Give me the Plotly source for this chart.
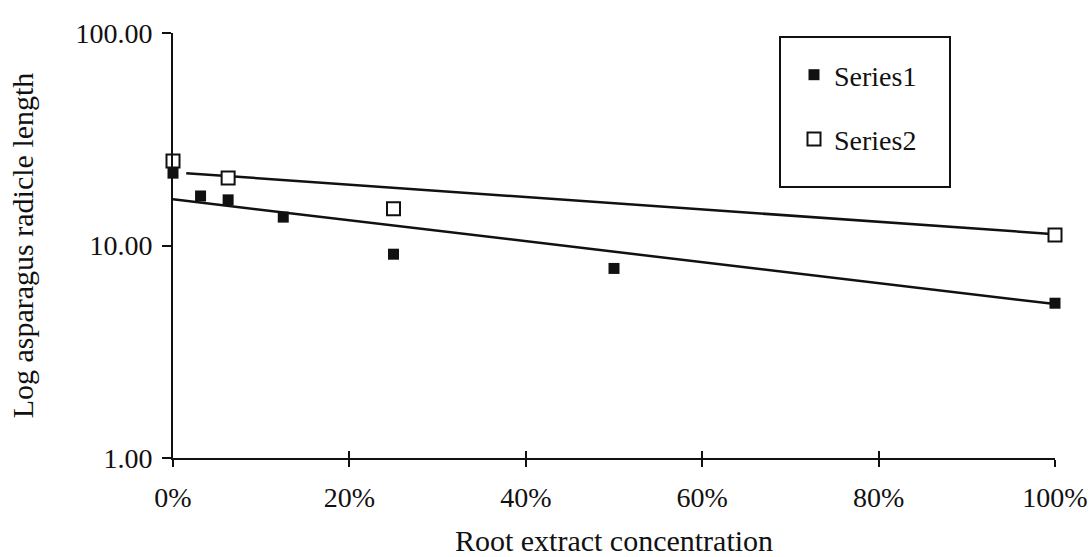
import plotly.graph_objects as go

# Data
conc1 = [0.0, 0.03125, 0.0625, 0.125, 0.25, 0.50, 1.00]
series1 = [21.9, 17.1, 16.4, 13.6, 9.1, 7.8, 5.35]
conc2 = [0.0, 0.0625, 0.25, 1.00]
series2 = [25.0, 20.8, 14.9, 11.2]

# Trend line end points
trend1_x = [0.0, 1.0]
trend1_y = [16.5, 5.3]
trend2_x = [0.015, 1.0]
trend2_y = [21.9, 11.3]

y_ticks = [1, 10, 100]
y_tick_text = ["1.00", "10.00", "100.00"]
x_ticks = [0, 0.2, 0.4, 0.6, 0.8, 1.0]

FONT = "Liberation Serif, Times New Roman, serif"
FS = 28
TFS = 30

fig = go.Figure()
fig.add_trace(go.Scatter(x=trend1_x, y=trend1_y, mode="lines",
                         line=dict(color="#111", width=2.5), showlegend=False,
                         hoverinfo="skip"))
fig.add_trace(go.Scatter(x=trend2_x, y=trend2_y, mode="lines",
                         line=dict(color="#111", width=2.5), showlegend=False,
                         hoverinfo="skip"))
fig.add_trace(go.Scatter(x=conc1, y=series1, mode="markers", name="Series1",
                         legendgroup="a",
                         marker=dict(symbol="square", size=11, color="#111",
                                     line=dict(width=0)),
                         cliponaxis=False))
fig.add_trace(go.Scatter(x=conc2, y=series2, mode="markers", name="Series2",
                         legendgroup="b",
                         marker=dict(symbol="square", size=13, color="white",
                                     line=dict(color="#111", width=2)),
                         cliponaxis=False))

fig.add_shape(type="rect", xref="paper", yref="paper",
              x0=(780 - 173) / 882, x1=(950 - 173) / 882,
              y0=(458 - 187) / 425, y1=(458 - 37) / 425,
              line=dict(color="#111", width=2), fillcolor="white", layer="below")

fig.update_layout(
    width=1091, height=557,
    margin=dict(l=173, r=36, t=33, b=99, autoexpand=False),
    paper_bgcolor="white", plot_bgcolor="white",
    font=dict(family=FONT, size=FS, color="#111"),
    legend=dict(x=(794 - 173) / 882, y=(458 - 50) / 425, xanchor="left", yanchor="top",
                bgcolor="rgba(0,0,0,0)", borderwidth=0,
                font=dict(family=FONT, size=FS, color="#111"),
                tracegroupgap=25, traceorder="grouped"),
    xaxis=dict(range=[0, 1], tickvals=x_ticks, tickformat=".0%", automargin=False,
               showgrid=False, zeroline=False, showline=True,
               linecolor="#111", linewidth=2,
               ticks="outside", ticklen=7, tickwidth=2, tickcolor="#111",
               ticklabelstandoff=6,
               tickfont=dict(family=FONT, size=FS),
               title=dict(text="Root extract concentration", standoff=25,
                          font=dict(family=FONT, size=TFS))),
    xaxis2=dict(range=[0, 1], tickvals=x_ticks, overlaying="x", automargin=False,
                showticklabels=False, showgrid=False, zeroline=False,
                ticks="inside", ticklen=7, tickwidth=2, tickcolor="#111",
                side="bottom", anchor="y"),
    yaxis=dict(type="log", range=[0, 2], tickvals=y_ticks, ticktext=y_tick_text,
               automargin=False,
               showgrid=False, zeroline=False, showline=True,
               linecolor="#111", linewidth=2,
               ticks="outside", ticklen=9, tickwidth=2, tickcolor="#111",
               ticklabelstandoff=4,
               tickfont=dict(family=FONT, size=FS),
               title=dict(text="Log asparagus radicle length", standoff=33,
                          font=dict(family=FONT, size=TFS))),
)
# invisible trace on xaxis2 so that it is drawn
fig.add_trace(go.Scatter(x=[0], y=[1], xaxis="x2", mode="markers",
                         marker=dict(opacity=0), showlegend=False, hoverinfo="skip"))

fig.write_html("out.html", config={"displayModeBar": False},
               post_script="document.body.style.margin='0';")
